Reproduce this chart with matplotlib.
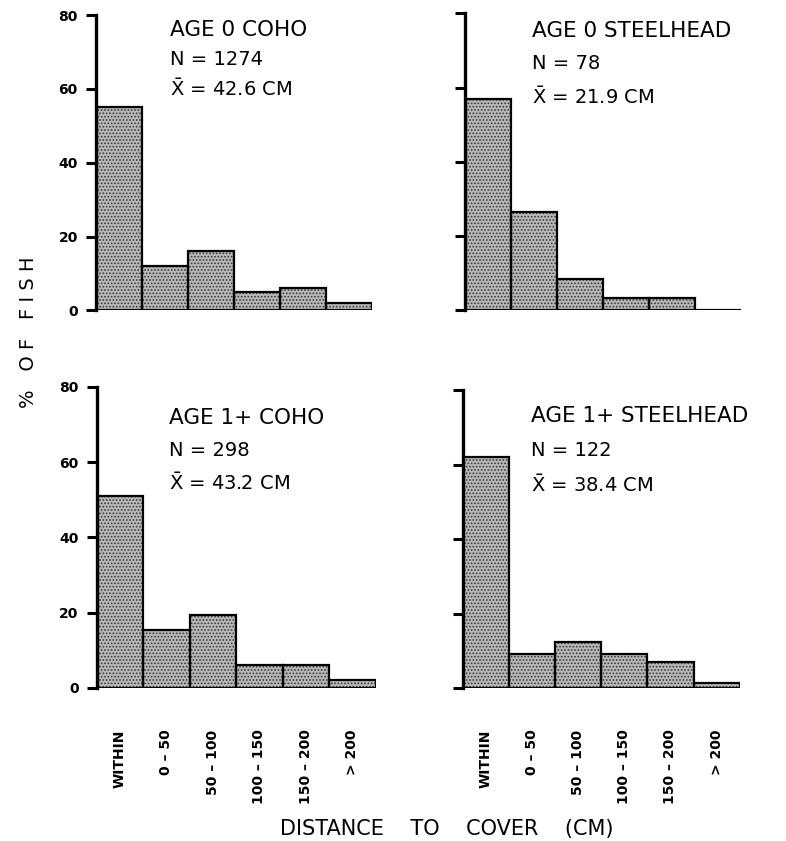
import numpy as np
import matplotlib
matplotlib.use('Agg')
import matplotlib.pyplot as plt

plt.rcParams['font.family'] = ['DejaVu Sans']
plt.rcParams['mathtext.fontset'] = 'dejavusans'
plt.rcParams['hatch.linewidth'] = 0.8

# categorias de distancia ate a cobertura
categories = ['WITHIN', '0 – 50', '50 – 100', '100 – 150', '150 – 200', '> 200']

# percentagem de peixes por classe
coho_0 = [55, 12, 16, 5, 6, 2]
steel_0 = [57, 26.5, 8.5, 3.3, 3.3, 0]
coho_1 = [51, 15.3, 19.3, 6, 6.2, 2.1]
steel_1 = [62, 9, 12.4, 9, 7, 1.3]

titles = ['AGE 0 COHO', 'AGE 0 STEELHEAD', 'AGE 1+ COHO', 'AGE 1+ STEELHEAD']
n_fish = [1274, 78, 298, 122]
means = ['42.6', '21.9', '43.2', '38.4']
yticks = [0, 20, 40, 60, 80]

series = [coho_0, steel_0, coho_1, steel_1]

# posicoes dos eixos [esq, baixo, largura, altura]
boxes = [[0.122, 0.631, 0.351, 0.351],
         [0.592, 0.631, 0.351, 0.353],
         [0.123, 0.182, 0.355, 0.358],
         [0.589, 0.182, 0.352, 0.354]]
# posicao do texto de cada painel (x, y do titulo, passo entre linhas)
text_pos = [(0.268, 0.949, 0.100),
            (0.243, 0.940, 0.110),
            (0.260, 0.897, 0.108),
            (0.245, 0.913, 0.115)]

fig = plt.figure(figsize=(7.86, 8.41), dpi=100)

for i in range(4):
    ax = fig.add_axes(boxes[i])
    x = np.arange(len(categories))
    vals = series[i]
    # preenchimento pontilhado
    ax.bar(x, vals, width=1.0, color='#b8b8b8', edgecolor='#383838',
           linewidth=0, hatch='.....')
    # contorno
    ax.bar(x, vals, width=1.0, fill=False, edgecolor='black', linewidth=1.6)

    ax.set_xlim(-0.5, len(categories) - 0.5)
    ax.set_ylim(0, 80)
    ax.set_yticks(yticks)
    for s in ['top', 'right', 'bottom']:
        ax.spines[s].set_visible(False)
    ax.spines['left'].set_linewidth(2.4)
    ax.tick_params(axis='y', direction='out', length=7, width=2.2, pad=6,
                   labelsize=10)
    if i % 2 == 0:
        ax.set_yticklabels([str(t) for t in yticks], fontweight='bold')
    else:
        ax.set_yticklabels([])

    ax.set_xticks(x)
    ax.tick_params(axis='x', length=0, pad=30)
    if i >= 2:
        ax.set_xticklabels(categories, rotation=90, fontsize=10,
                           fontweight='bold', va='top', ha='center')
    else:
        ax.set_xticklabels([])

    tx, ty, step = text_pos[i]
    ax.text(tx, ty, titles[i], transform=ax.transAxes, fontsize=15.5,
            va='center', ha='left')
    ax.text(tx, ty - step, 'N = %d' % n_fish[i], transform=ax.transAxes,
            fontsize=14, va='center', ha='left')
    ax.text(tx, ty - 2 * step, r'$\bar{\mathrm{X}}$ = %s CM' % means[i],
            transform=ax.transAxes, fontsize=14, va='center', ha='left')

fig.text(0.036, 0.605, '%   O F   F I S H', rotation=90, fontsize=14,
         ha='center', va='center')
fig.text(0.569, 0.014, 'DISTANCE    TO    COVER    (CM)',
         fontsize=15, ha='center', va='center')

fig.savefig('out.png', dpi=100)
